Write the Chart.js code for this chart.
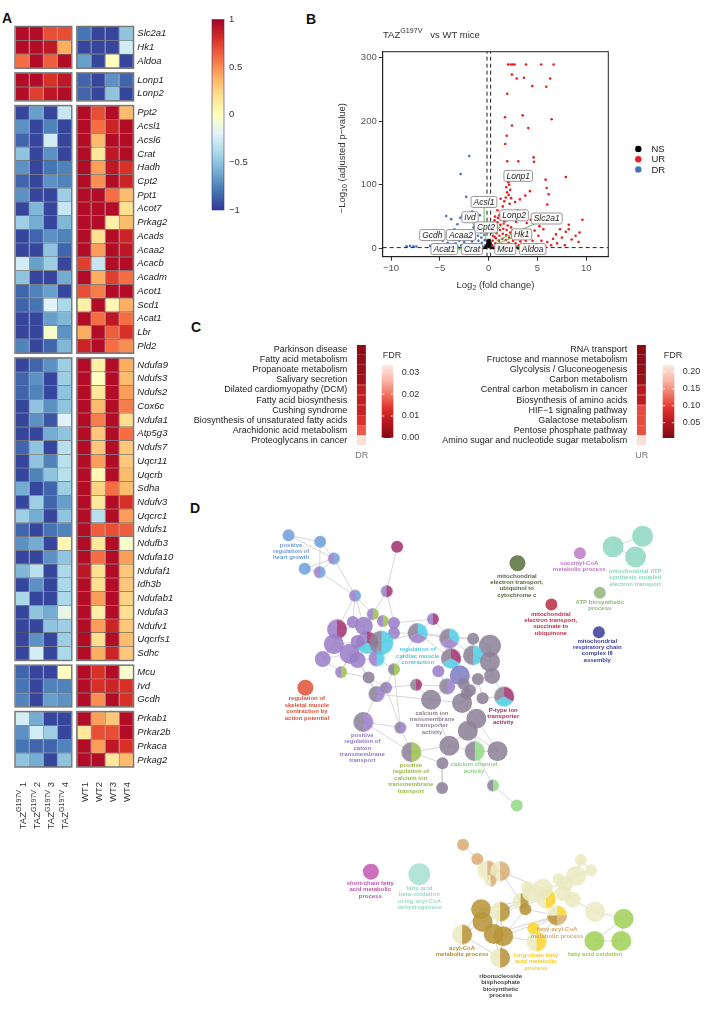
<!DOCTYPE html>
<html>
<head>
<meta charset="utf-8">
<script src="https://cdn.jsdelivr.net/npm/chart.js@4.4.1/dist/chart.umd.min.js"></script>
<style>
  body { margin:0; background:#fff; width:709px; height:1011px; position:relative; overflow:hidden;
         font-family:"Liberation Sans", Arial, sans-serif; }
  canvas { position:absolute; }
  .tag { position:absolute; font-weight:bold; font-size:14px; line-height:14px; color:#111; }
</style>
</head>
<body>
<div class="tag" style="left:2px;top:11px">A</div>
<div class="tag" style="left:306px;top:12px">B</div>
<div class="tag" style="left:191px;top:320px">C</div>
<div class="tag" style="left:190px;top:501px">D</div>

<canvas id="heat" width="250" height="880" style="left:0;top:0"></canvas>
<canvas id="volcano" width="409" height="300" style="left:300px;top:0"></canvas>
<canvas id="keggDown" width="250" height="130" style="left:185px;top:330px"></canvas>
<canvas id="keggUp" width="279" height="130" style="left:430px;top:330px"></canvas>
<canvas id="network" width="479" height="501" style="left:230px;top:510px"></canvas>

<script>
Chart.defaults.font.family = '"Liberation Sans", Arial, sans-serif';
const FONT = '"Liberation Sans", Arial, sans-serif';

// ---------------- panel A: z-scored expression ----------------
const geneNames = ['Slc2a1','Hk1','Aldoa','Lonp1','Lonp2','Ppt2','Acsl1','Acsl6','Crat','Hadh','Cpt2','Ppt1',
  'Acot7','Prkag2','Acads','Acaa2','Acacb','Acadm','Acot1','Scd1','Acat1','Lbr','Pld2','Ndufa9','Ndufs3',
  'Ndufs2','Cox6c','Ndufa1','Atp5g3','Ndufs7','Uqcr11','Uqcrb','Sdha','Ndufv3','Uqcrc1','Ndufs1','Ndufb3',
  'Ndufa10','Ndufaf1','Idh3b','Ndufab1','Ndufa3','Ndufv1','Uqcrfs1','Sdhc','Mcu','Ivd','Gcdh','Prkab1',
  'Prkar2b','Prkaca','Prkag2'];
const geneGroupSizes = [3, 2, 18, 22, 3, 4];
const sampleLabels = [['TAZ','G197V',' 1'],['TAZ','G197V',' 2'],['TAZ','G197V',' 3'],['TAZ','G197V',' 4'],
  ['WT1','',''],['WT2','',''],['WT3','',''],['WT4','','']];
const tazZ = [
  [0.95,0.95,0.7,0.7],[0.95,0.95,0.9,0.4],[0.6,0.95,0.65,0.95],[0.95,0.95,0.8,0.9],[0.95,0.75,0.9,0.95],
  [-0.95,-0.65,-0.95,-0.3],[-0.7,-0.95,-0.75,-0.95],[-0.85,-0.95,-0.25,-0.95],[-0.5,-0.95,-0.7,-0.95],
  [-0.7,-0.95,-0.8,-0.75],[-0.85,-0.95,-0.7,-0.75],[-0.7,-0.95,-0.95,-0.45],[-0.95,-0.55,-0.95,-0.3],
  [-0.45,-0.6,-0.95,-0.55],[-0.95,-0.85,-0.7,-0.75],[-0.95,-0.95,-0.5,-0.85],[-0.25,-0.65,-0.45,-0.95],
  [-0.5,-0.95,-0.95,-0.6],[-0.85,-0.75,-0.65,-0.95],[-0.85,-0.8,-0.2,-0.4],[-0.95,-0.95,-0.65,-0.55],
  [-0.95,-0.95,-0.05,-0.7],[-0.75,-0.95,-0.85,-0.55],
  [-0.95,-0.85,-0.7,-0.45],[-0.85,-0.7,-0.95,-0.45],[-0.85,-0.75,-0.95,-0.5],[-0.95,-0.5,-0.7,-0.5],
  [-0.95,-0.7,-0.9,-0.2],[-0.95,-0.95,-0.6,-0.5],[-0.85,-0.5,-0.95,-0.35],[-0.95,-0.5,-0.75,-0.35],
  [-0.95,-0.75,-0.5,-0.35],[-0.6,-0.95,-0.85,-0.45],[-0.95,-0.45,-0.85,-0.65],[-0.45,-0.6,-0.95,-0.5],
  [-0.85,-0.95,-0.8,-0.75],[-0.7,-0.6,-0.95,0.05],[-0.95,-0.95,-0.7,-0.5],[-0.55,-0.35,-0.95,-0.4],
  [-0.95,-0.7,-0.95,-0.4],[-0.4,-0.95,-0.95,-0.4],[-0.95,-0.5,-0.6,-0.15],[-0.95,-0.95,-0.5,-0.45],
  [-0.95,-0.7,-0.95,-0.45],[-0.95,-0.25,-0.95,-0.4],
  [-0.85,-0.95,-0.95,0.0],[-0.8,-0.95,-0.75,-0.75],[-0.75,-0.95,-0.65,-0.7],
  [-0.25,-0.6,-0.95,-0.95],[-0.7,-0.25,-0.45,-0.95],[-0.8,-0.85,-0.85,-0.75],[-0.5,-0.6,-0.95,-0.5]
];
const wtZ = [
  [-0.8,-0.95,-0.95,-0.5],[-0.95,-0.95,-0.95,-0.25],[-0.65,-0.95,0.0,-0.95],[-0.85,-0.95,-0.7,-0.85],[-0.85,-0.95,-0.5,-0.95],
  [0.95,0.7,0.95,0.35],[0.95,0.6,0.85,0.95],[0.95,0.35,0.95,0.95],[0.95,0.15,0.9,0.95],[0.95,0.45,0.9,0.8],
  [0.95,0.5,0.95,0.85],[0.95,0.95,0.6,0.35],[0.95,0.95,0.95,0.2],[0.95,0.95,0.1,0.35],[0.95,0.2,0.95,0.85],
  [0.95,0.45,0.95,0.9],[0.75,-0.3,0.95,0.95],[0.95,0.4,0.75,0.6],[0.7,0.55,0.95,0.95],[0.1,0.95,0.05,0.4],
  [0.95,0.6,0.9,0.6],[0.4,0.95,0.65,0.8],[0.85,0.95,0.6,0.5],
  [0.95,0.1,0.95,0.4],[0.95,0.0,0.95,0.35],[0.95,0.15,0.95,0.45],[0.95,0.35,0.95,0.55],[0.95,0.55,0.95,0.2],
  [0.95,0.3,0.95,0.6],[0.95,0.3,0.95,0.3],[0.95,0.45,0.95,0.3],[0.95,0.05,0.95,0.35],[0.95,0.25,0.6,0.35],
  [0.95,0.15,0.95,0.8],[0.95,-0.35,0.95,0.45],[0.95,0.65,0.7,0.65],[0.95,0.15,0.95,-0.05],[0.95,0.6,0.95,0.45],
  [0.9,0.2,0.95,0.3],[0.95,0.2,0.95,0.3],[0.95,0.45,0.95,0.25],[0.95,0.1,0.95,0.2],[0.95,0.45,0.85,0.3],
  [0.95,0.2,0.95,0.35],[0.95,0.4,0.85,0.3],
  [0.95,0.8,0.95,-0.05],[0.95,0.8,0.85,0.8],[0.95,0.5,0.95,0.8],
  [0.95,0.45,0.3,0.95],[0.15,0.7,0.7,0.95],[0.95,0.45,0.9,0.8],[0.95,0.95,0.15,0.35]
];
const zTicks = [1, 0.5, 0, -0.5, -1];

// ---------------- panel B: volcano ----------------
const upPoints = [
  [2.0,289],[2.25,289],[2.46,289],[2.66,289],[3.82,289],[5.38,289],[6.65,289],
  [2.38,273],[2.87,267],[3.61,268],[6.3,267],[4.47,255],[5.9,254],[1.9,243],
  [1.67,206],[3.48,209],[6.45,203],[2.38,193],[4.06,189],[1.85,177],[1.7,164],
  [1.9,137],[3.03,137],[4.6,143],[4.64,136],[5.83,108],[7.9,112],[6.14,85],[4.23,90],[5.94,95],
  [3.75,83],[6.0,69],[1.23,78],[2.7,73],[3.2,77],
  [2.0,104],[2.1,100],[1.8,96],[2.2,92],[1.9,88],[2.05,84],[1.75,80],[2.3,79],[1.6,74],[2.15,70],[1.45,66],
  [9.6,45],[9.3,25],[8.2,30],[8.2,37],[7.9,26],[8.5,14],[7.5,17],[6.6,15],[6.0,10],[5.4,12],[7.0,8],
  [6.4,5],[5.1,20],[4.7,28],[3.9,40],[4.3,45],[3.5,55],[5.6,30],[6.9,22],[7.3,30],[8.9,20],[9.2,10],
  [5.8,3],[4.9,7],[7.8,5],[3.0,60],[1.4,58],[1.1,52],[2.5,56],[4.0,18],[4.5,12],[3.3,48],[2.8,42],
  [5.2,35],[0.9,60],
  [0.35,5],[0.4,12],[0.45,20],[0.5,28],[0.55,36],[0.6,44],[0.42,40],[0.7,8],[0.75,16],[0.8,24],
  [0.85,33],[0.9,41],[0.95,48],[1.0,4],[1.05,12],[1.1,20],[1.15,29],[1.2,37],[1.25,45],[1.35,7],
  [1.4,15],[1.45,23],[1.5,31],[1.55,39],[1.7,5],[1.75,13],[1.8,21],[1.85,29],[1.95,36],[2.05,9],
  [2.1,17],[2.2,25],[2.3,33],[2.4,4],[2.5,12],[2.6,20],[2.75,8],[2.85,15],[3.0,24],[3.1,5],
  [3.25,11],[3.4,18],[3.6,6],[3.8,12],[4.1,4],[0.3,25],[0.38,32],[0.65,50],[0.52,2],[1.6,43],
  [2.45,28],[1.3,2],[0.62,18],[0.88,3],[3.5,2],[2.0,2],[2.9,3]
];
const downPoints = [
  [-1.99,145],[-2.87,117],[-2.3,81],[-4.35,51],[-3.84,46],[-2.9,48],[-2.7,51],[-8.4,3.5],[-8.05,4],
  [-7.7,3.5],[-7.4,3],[-5.5,20],[-4.0,28],[-3.5,30],[-3.2,38],[-1.7,58],[-1.2,40],[-0.9,52],[-4.7,12],
  [-5.2,7],[-6.0,4],[-3.1,22],
  [-0.35,5],[-0.4,13],[-0.45,21],[-0.5,29],[-0.55,36],[-0.7,9],[-0.75,17],[-0.8,25],[-0.85,32],
  [-1.0,4],[-1.05,12],[-1.1,20],[-1.2,28],[-1.35,7],[-1.4,15],[-1.5,23],[-1.65,4],[-1.7,11],
  [-1.8,19],[-1.95,27],[-2.0,6],[-2.1,14],[-2.3,22],[-2.4,3],[-2.5,10],[-2.7,17],[-2.8,5],[-3.0,12],
  [-3.2,3],[-3.4,8],[-3.6,14],[-3.9,4],[-4.2,9],[-4.5,3],[-0.6,2],[-1.25,2],[-2.2,2],[-0.95,38],
  [-1.55,33],[-2.6,26]
];
const nsPoints = [
  [-0.25,1],[-0.2,4],[-0.15,7],[-0.1,10],[-0.05,3],[0,6],[0.05,9],[0.1,2],[0.15,5],[0.2,8],[0.25,1],
  [-0.3,3],[-0.6,0.5],[-1.0,0.3],[-1.5,0.6],[-2.0,0.4],[-2.5,0.3],[0.5,0.5],[0.9,0.3],[1.3,0.6],
  [1.8,0.4],[2.3,0.3],[-0.12,12],[0.12,11],[0.02,13],[-0.8,1],[0.7,1],[-3,0.2],[3,0.2],[-0.4,0.8],[0.35,0.9]
];
// gene tags: name, tag centre (x, y), labelled point (x, y)
const tagSpots = [
  ['Lonp1',3.03,114,1.97,105],['Acsl1',-0.48,73,-0.45,20],['Lonp2',2.6,52,0.9,30],['Slc2a1',5.94,47,0.8,12],
  ['Ivd',-1.91,49,-1.4,32],['Cpt2',-0.28,33,-0.3,15],['Gcdh',-5.77,21,-4.8,22],['Acaa2',-2.84,21,-1.9,18],
  ['Hk1',3.38,22,0.9,8],['Acat1',-4.54,-1,-1.5,1],['Crat',-1.71,-1,-0.5,2],['Mcu',1.7,-1,0.5,2],
  ['Aldoa',4.5,-1,2.8,4]
];

// ---------------- panel C: KEGG enrichment ----------------
const downPathways = ['Parkinson disease','Fatty acid metabolism','Propanoate metabolism','Salivary secretion',
  'Dilated cardiomyopathy (DCM)','Fatty acid biosynthesis','Cushing syndrome',
  'Biosynthesis of unsaturated fatty acids','Arachidonic acid metabolism','Proteoglycans in cancer'];
const downFdr = [0.0017,0.0027,0.0033,0.004,0.0083,0.009,0.0093,0.0133,0.0173,0.0322];
const downTicks = [0.00, 0.01, 0.02, 0.03];
const upPathways = ['RNA transport','Fructose and mannose metabolism','Glycolysis / Gluconeogenesis',
  'Carbon metabolism','Central carbon metabolism in cancer','Biosynthesis of amino acids',
  'HIF\u22121 signaling pathway','Galactose metabolism','Pentose phosphate pathway',
  'Amino sugar and nucleotide sugar metabolism'];
const upFdr = [0.0115,0.018,0.022,0.026,0.052,0.057,0.108,0.108,0.112,0.214];
const upTicks = [0.05, 0.10, 0.15, 0.20];

// ---------------- panel D: GO term network ----------------
// x, y, radius, slice colours (clockwise from 12 o'clock)
const goNodes = [
  [49,14,6,'B'],[82.3,20.7,6,'B'],[96.7,38.3,6,'BP'],[66,49,6,'B'],[81.7,52.7,6,'BP'],
  [119,77.3,6,'BP'],[163.3,26,6,'M'],[152.3,72.7,6,'MP'],[201,102,6,'MP'],[100,112.7,10,'MP'],
  [96.7,128.3,10,'P'],[85,144,8,'P'],[116.7,105,6,'P'],[128.3,109,9,'P'],[137.7,96.7,6,'GP'],
  [148.3,104,6,'GP'],[160,106,6,'P'],[160,116.7,6,'P'],[121.7,126,7,'P'],[131.7,126.7,11,'MCP'],
  [146.7,126.7,12,'CY'],[113.3,138.3,10,'P'],[121.7,145,8,'P'],[141.7,143.3,8,'CP'],[104.3,157.7,6,'GP'],
  [133.3,163.3,6,'Y'],[160,154.7,6,'GY'],[185,116.7,10,'CPY'],[218.3,122.3,10,'CPY'],[220,143.3,10,'MCY'],
  [243.3,122.7,6,'Y'],[261,130,11,'Y'],[243.3,140,10,'CY'],[261,146.7,10,'Y'],[263.3,161.7,8,'Y'],
  [229.3,161,10,'V'],[248.3,165,6,'Y'],[206.7,156.7,6,'P'],[216,172.7,8,'PY'],[183.3,171,6,'MY'],
  [151.7,174,6,'PY'],[141.7,180.7,8,'PY'],[199,186.7,10,'Y'],[231.7,190,10,'Y'],[240,176.7,6,'Y'],
  [253.3,185,6,'Y'],[246.7,206.7,10,'Y'],[237.7,219.3,10,'Y'],[276,183.3,10,'MCY'],[127.7,210,10,'PY'],
  [166.7,216,6,'PY'],[178.3,241.7,10,'GY'],[218.3,235,10,'Y'],[245,240.7,10,'LY'],[269,240.7,10,'Y'],
  [211,253.3,6,'Y'],[66.7,174,8,'R'],[210.7,279.3,6,'Y'],[264.3,276.7,6,'LY'],[289.3,297.7,6,'L'],
  [233.3,170,6,'Y'],[236.7,180,6,'Y'],[290,43.3,8,'O'],[355.7,32.7,6,'K'],[390.7,26,10.5,'N'],
  [421.7,15,10.5,'N'],[414.3,36.7,10.5,'N'],[376.7,74.3,6,'S'],[325.7,86.7,6,'D'],[375.7,115.7,6,'Q'],
  [232.7,339,6,'T'],[247.7,354,6,'T'],[258.3,366,10,'TE'],[271.7,366.7,10,'TE'],[261.7,376.7,6,'TE'],
  [135.7,367.3,8,'U'],[186.7,370,11,'A'],[293.3,398.3,8,'HE'],[298.3,406.7,6,'H'],[320,395.7,10,'WE'],
  [331.7,413.3,10,'WTHE'],[310,440.7,10,'WE'],[251.7,406.7,10,'H'],[271.7,409.3,10,'HE'],[253.3,420,10,'H'],
  [265,432.7,10,'H'],[275,435,10,'H'],[231.7,433.3,10,'HE'],[271.7,457.7,10,'HE'],[306.7,426.7,6,'W'],
  [300,383.3,6,'E'],[316.7,385,10,'E'],[333.3,375,6,'E'],[340,380,8,'E'],[351.7,371.7,10,'E'],
  [356.7,355,6,'E'],[367.3,365.7,6,'E'],[348.3,396.7,8,'E'],[371.7,409.3,10,'E'],[338.3,390,8,'E'],
  [303.3,390,8,'E'],[401.7,416.7,10,'F'],[371,440,10,'F'],[399.3,440,10,'F']
];
const goEdges = [
  [0,1],[0,2],[1,2],[3,4],[2,4],[1,4],[2,5],[4,5],[3,2],[6,7],[7,14],[7,16],[5,12],[5,13],[5,9],[5,14],
  [8,27],[8,28],[8,16],[9,10],[9,12],[9,13],[10,11],[10,21],[10,18],[11,21],[11,24],[12,13],[13,14],
  [13,19],[14,15],[15,16],[16,17],[17,20],[18,19],[19,20],[19,21],[19,22],[20,23],[20,27],[21,22],
  [22,23],[22,25],[23,26],[24,25],[24,18],[25,40],[25,41],[26,40],[26,27],[27,28],[27,29],[27,17],
  [28,29],[28,30],[28,32],[29,32],[29,35],[29,37],[30,31],[31,32],[31,33],[32,33],[33,34],[34,36],
  [35,36],[35,60],[35,43],[36,45],[37,38],[38,39],[38,42],[39,40],[39,42],[41,49],[40,50],[41,42],
  [42,43],[43,44],[44,45],[45,48],[43,46],[46,47],[47,52],[48,34],[49,50],[49,51],[50,51],[51,52],
  [51,55],[52,53],[53,54],[52,55],[54,47],[46,53],[42,52],[55,57],[53,58],[58,59],[26,50],[41,22],
  [30,27],[21,24],[60,61],[61,43],[60,44],[34,61],[46,54],[64,65],[64,66],
  [70,71],[71,72],[71,73],[72,73],[72,74],[73,77],[73,91],[77,78],[77,79],[77,82],[77,83],[77,84],
  [78,80],[79,80],[79,91],[80,81],[80,85],[80,86],[81,86],[82,83],[82,84],[82,87],[83,85],[83,86],
  [84,85],[84,87],[85,86],[85,88],[86,88],[87,88],[89,80],[89,81],[79,94],[91,93],[93,94],[94,95],
  [94,96],[95,96],[97,98],[98,101],[101,102],[101,103],[102,103],[91,100],[100,77],[99,97],[92,93],
  [83,79],[78,86]
];
// term labels: lines, colour, x, y of first line
const goLabels = [
  [['positive','regulation of','heart growth'],'#6c9dd9',51.7,24],
  [['regulation of','cardiac muscle','contraction'],'#4cc8e2',185,134],
  [['mitochondrial','electron transport,','ubiquinol to','cytochrome c'],'#56693d',289.3,56.7],
  [['succinyl-CoA','metabolic process'],'#bb78c4',355,43.3],
  [['mitochondrial ATP','synthesis coupled','electron transport'],'#8bd5be',414,51.7],
  [['ATP biosynthetic','process'],'#8fb678',376.7,84.3],
  [['mitochondrial','electron transport,','succinate to','ubiquinone'],'#bd3046',325,96.7],
  [['mitochondrial','respiratory chain','complex III','assembly'],'#3d3f96',374,125],
  [['regulation of','skeletal muscle','contraction by','action potential'],'#df5039',68.3,185.7],
  [['P-type ion','transporter','activity'],'#a02f6c',275,197.3],
  [['calcium ion','transmembrane','transporter','activity'],'#8d8399',200,200.7],
  [['positive','regulation of','cation','transmembrane','transport'],'#9679c6',126.7,224],
  [['positive','regulation of','calcium ion','transmembrane','transport'],'#98bb48',177.7,255.7],
  [['calcium channel','activity'],'#8ad283',244.3,255],
  [['short-chain fatty','acid metabolic','process'],'#c152ae',135,379.3],
  [['fatty acid','beta-oxidation','using acyl-CoA','dehydrogenase'],'#9ed9c9',186.7,384.7],
  [['acyl-CoA','metabolic process'],'#b48f33',231.7,447.7],
  [['fatty-acyl-CoA','metabolic process'],'#d9a870',331.7,428.3],
  [['long-chain fatty','acid metabolic','process'],'#f5cc2a',309.3,455],
  [['fatty acid oxidation'],'#9ccd52',371.7,454],
  [['ribonucleoside','bisphosphate','biosynthetic','process'],'#444444',272.3,477.3]
];
const goColors = {
  P:'#9b7fca', Y:'#8d8399', C:'#52cde6', M:'#a43473', G:'#9dbf4e', L:'#96d98b', B:'#72a0dc',
  V:'#7f80c6', R:'#e0563f', O:'#5f7443', K:'#c07fc7', N:'#8fd8c1', S:'#93b97c', D:'#bd3347',
  Q:'#41439b', E:'#ebeac2', T:'#dcae78', H:'#b8953a', W:'#fbd633', F:'#a3d25c', U:'#c55bb3', A:'#a8e0d2'
};

// ---------------- helpers ----------------
function hexRgb(h) { const n = parseInt(h.slice(1), 16); return [n >> 16 & 255, n >> 8 & 255, n & 255]; }
function rgba(h, a) { const c = hexRgb(h); return `rgba(${c[0]},${c[1]},${c[2]},${a})`; }
function rampColor(stops, t) {
  t = Math.max(0, Math.min(1, t));
  const k = t * (stops.length - 1), i = Math.min(stops.length - 2, Math.floor(k)), f = k - i;
  const a = hexRgb(stops[i]), b = hexRgb(stops[i + 1]);
  return `rgb(${Math.round(a[0] + (b[0] - a[0]) * f)},${Math.round(a[1] + (b[1] - a[1]) * f)},${Math.round(a[2] + (b[2] - a[2]) * f)})`;
}
const RDYLBU = ['#313695','#4575b4','#74add1','#abd9e9','#e0f3f8','#ffffbf','#fee090','#fdae61','#f46d43','#d73027','#a50026'];
const zColor = v => rampColor(RDYLBU, (v + 1) / 2);
const REDS = ['#7f0a14','#b3161d','#df2f2b','#f07563','#f9b9aa','#fde8e1'];

// text with super/subscripts: parts = [[text, shift]] shift 1 = sup, -1 = sub
function drawRich(ctx, parts, x, y, size, align, style) {
  const f = s => `${style || ''} ${s}px ${FONT}`;
  let w = 0;
  parts.forEach(p => { ctx.font = f(p[1] ? size * 0.75 : size); w += ctx.measureText(p[0]).width; });
  let cx = align === 'center' ? x - w / 2 : align === 'right' ? x - w : x;
  ctx.textAlign = 'left';
  ctx.textBaseline = 'middle';
  parts.forEach(p => {
    ctx.font = f(p[1] ? size * 0.75 : size);
    const dy = p[1] === 1 ? -size * 0.4 : p[1] === -1 ? size * 0.3 : 0;
    ctx.fillText(p[0], cx, y + dy);
    cx += ctx.measureText(p[0]).width;
  });
}
const minus = v => String(v).replace('-', '\u2212');

// ---------------- chart A ----------------
const COL_GAP = 0.4, ROW_GAP = 0.38;
const rowPos = [];
let rowAcc = 0;
geneGroupSizes.forEach((n, g) => {
  for (let k = 0; k < n; k++) rowPos.push(rowAcc + k + 0.5 + g * ROW_GAP);
  rowAcc += n;
});
const Y_MAX = rowAcc + (geneGroupSizes.length - 1) * ROW_GAP;
const X_MAX = 8 + COL_GAP;
const colStart = c => (c < 4 ? c : c + COL_GAP);
const heatCells = [];
geneNames.forEach((g, i) => {
  tazZ[i].forEach((v, c) => heatCells.push({ x: [colStart(c), colStart(c) + 1], y: rowPos[i], v }));
  wtZ[i].forEach((v, c) => heatCells.push({ x: [colStart(c + 4), colStart(c + 4) + 1], y: rowPos[i], v }));
});
const HM_TOP = 19.5, HM_BOTTOM = 774;

const heatExtras = {
  id: 'heatExtras',
  afterDatasetsDraw(chart) {
    const { ctx, scales: { x, y } } = chart;
    ctx.save();
    // block frames
    ctx.strokeStyle = '#767676';
    ctx.lineWidth = 1.4;
    let acc = 0;
    geneGroupSizes.forEach((n, g) => {
      const top = y.getPixelForValue(acc + g * ROW_GAP), bot = y.getPixelForValue(acc + n + g * ROW_GAP);
      [[0, 4], [4 + COL_GAP, X_MAX]].forEach(([a, b]) => {
        const l = x.getPixelForValue(a), r = x.getPixelForValue(b);
        ctx.strokeRect(l - 0.3, top - 0.3, r - l + 0.6, bot - top + 0.6);
      });
      acc += n;
    });
    // sample labels, rotated
    ctx.fillStyle = '#333';
    sampleLabels.forEach((lab, c) => {
      const cx = x.getPixelForValue(colStart(c) + 0.5);
      ctx.save();
      ctx.translate(cx + 1, chart.chartArea.bottom + 8);
      ctx.rotate(-Math.PI / 2);
      const parts = [[lab[0], 0]];
      if (lab[1]) parts.push([lab[1], 1]);
      if (lab[2]) parts.push([lab[2], 0]);
      drawRich(ctx, parts, 0, 0, 9.5, 'right');
      ctx.restore();
    });
    // colour key
    const kx = 212, kw = 12, kt = 19.5, kb = 210;
    const grad = ctx.createLinearGradient(0, kb, 0, kt);
    RDYLBU.forEach((c, i) => grad.addColorStop(i / (RDYLBU.length - 1), c));
    ctx.fillStyle = grad;
    ctx.fillRect(kx, kt, kw, kb - kt);
    ctx.strokeStyle = '#3b3b7a';
    ctx.lineWidth = 0.6;
    ctx.strokeRect(kx, kt, kw, kb - kt);
    ctx.fillStyle = '#333';
    ctx.font = `9.5px ${FONT}`;
    ctx.textAlign = 'left';
    ctx.textBaseline = 'middle';
    zTicks.forEach(v => {
      const py = kb - (v + 1) / 2 * (kb - kt);
      ctx.fillText(minus(v), kx + kw + 5, py);
    });
    ctx.restore();
  }
};

new Chart(document.getElementById('heat'), {
  type: 'bar',
  data: {
    datasets: [{
      data: heatCells,
      backgroundColor: c => zColor(c.raw.v),
      borderColor: '#141414',
      borderWidth: 0.5,
      borderSkipped: false,
      inflateAmount: 0,
      barThickness: (HM_BOTTOM - HM_TOP) / Y_MAX
    }]
  },
  options: {
    indexAxis: 'y',
    responsive: false,
    animation: false,
    devicePixelRatio: 1,
    layout: { padding: { left: 15.3, top: HM_TOP, right: 250 - 60 - 133.3, bottom: 880 - HM_BOTTOM } },
    plugins: { legend: { display: false }, tooltip: { enabled: false } },
    scales: {
      x: { type: 'linear', min: 0, max: X_MAX, display: false },
      y: {
        type: 'linear', min: 0, max: Y_MAX, reverse: true, position: 'right',
        grid: { display: false, drawTicks: false }, border: { display: false },
        afterBuildTicks: s => { s.ticks = rowPos.map(v => ({ value: v })); },
        afterFit: s => { s.width = 60; },
        ticks: { autoSkip: false, padding: 4, color: '#222', font: { size: 9.5, style: 'italic' },
                 callback: (v, i) => geneNames[i] }
      }
    }
  },
  plugins: [heatExtras]
});

// ---------------- chart B ----------------
const toXY = arr => arr.map(([x, y]) => ({ x, y }));
const X_MIN_V = -10.85, X_MAX_V = 12.25, Y_MIN_V = -13, Y_MAX_V = 309;

const volcanoExtras = {
  id: 'volcanoExtras',
  afterDatasetsDraw(chart) {
    const { ctx, chartArea: a, scales: { x, y } } = chart;
    ctx.save();
    ctx.strokeStyle = '#222';
    ctx.lineWidth = 1;
    ctx.strokeRect(a.left, a.top, a.right - a.left, a.bottom - a.top);
    // leader lines
    ctx.strokeStyle = '#6cbf58';
    ctx.lineWidth = 1;
    tagSpots.forEach(([n, lx, ly, px, py]) => {
      ctx.beginPath();
      ctx.moveTo(x.getPixelForValue(lx), y.getPixelForValue(ly));
      ctx.lineTo(x.getPixelForValue(px), y.getPixelForValue(py));
      ctx.stroke();
    });
    // tag boxes
    ctx.font = `italic 8.5px ${FONT}`;
    ctx.textAlign = 'center';
    ctx.textBaseline = 'middle';
    tagSpots.forEach(([n, lx, ly]) => {
      const cx = x.getPixelForValue(lx), cy = y.getPixelForValue(ly);
      const w = ctx.measureText(n).width + 5, h = 11;
      ctx.beginPath();
      ctx.roundRect(cx - w / 2, cy - h / 2, w, h, 2);
      ctx.fillStyle = 'rgba(255,255,255,0.9)';
      ctx.fill();
      ctx.strokeStyle = '#7d7d7d';
      ctx.lineWidth = 0.8;
      ctx.stroke();
      ctx.fillStyle = '#222';
      ctx.fillText(n, cx, cy + 0.5);
    });
    // titles
    ctx.fillStyle = '#333';
    drawRich(ctx, [['TAZ', 0], ['G197V', 1], ['   vs WT mice', 0]], 83, 35, 9.5, 'left');
    drawRich(ctx, [['Log', 0], ['2', -1], [' (fold change)', 0]], (a.left + a.right) / 2, 285, 9.5, 'center');
    ctx.save();
    ctx.translate(42, (a.top + a.bottom) / 2 + 4);
    ctx.rotate(-Math.PI / 2);
    drawRich(ctx, [['\u2212Log', 0], ['10', -1], [' (adjusted p\u2212value)', 0]], 0, 0, 9.5, 'center');
    ctx.restore();
    // legend
    const keys = [['NS', '#000000'], ['UR', '#ee1c24'], ['DR', '#4a6fc1']];
    ctx.font = `9.5px ${FONT}`;
    ctx.textAlign = 'left';
    keys.forEach(([k, c], i) => {
      const ly = 149 + i * 10.2;
      ctx.beginPath();
      ctx.arc(338.3, ly, 3.2, 0, Math.PI * 2);
      ctx.fillStyle = c;
      ctx.fill();
      ctx.fillStyle = '#222';
      ctx.fillText(k, 351.5, ly + 0.5);
    });
    ctx.restore();
  }
};

const dashLine = pts => ({ type: 'line', data: pts, borderColor: '#222', borderWidth: 1, borderDash: [4, 3],
  pointRadius: 0, order: 0 });

new Chart(document.getElementById('volcano'), {
  type: 'scatter',
  data: {
    datasets: [
      dashLine([{ x: -0.17, y: Y_MIN_V }, { x: -0.17, y: Y_MAX_V }]),
      dashLine([{ x: 0.2, y: Y_MIN_V }, { x: 0.2, y: Y_MAX_V }]),
      dashLine([{ x: X_MIN_V, y: 1.3 }, { x: X_MAX_V, y: 1.3 }]),
      { label: 'DR', data: toXY(downPoints), backgroundColor: '#4a6fc1', pointRadius: 1.3, borderWidth: 0, order: 3 },
      { label: 'UR', data: toXY(upPoints), backgroundColor: '#ee1c24', pointRadius: 1.3, borderWidth: 0, order: 2 },
      { label: 'NS', data: toXY(nsPoints), backgroundColor: '#000000', pointRadius: 1.3, borderWidth: 0, order: 1 }
    ]
  },
  options: {
    responsive: false,
    animation: false,
    devicePixelRatio: 1,
    layout: { padding: { left: 0, top: 51.7, right: 409 - 308.3, bottom: 300 - 256.7 - 20 } },
    plugins: { legend: { display: false }, tooltip: { enabled: false } },
    scales: {
      x: {
        type: 'linear', min: X_MIN_V, max: X_MAX_V,
        afterFit: s => { s.height = 20; },
        grid: { drawOnChartArea: false, tickLength: 4, color: '#333' },
        border: { color: '#222' },
        ticks: { stepSize: 5, includeBounds: false, padding: 2, color: '#555', font: { size: 9.5 }, callback: v => minus(v) }
      },
      y: {
        type: 'linear', min: Y_MIN_V, max: Y_MAX_V,
        afterFit: s => { s.width = 82.7; },
        grid: { drawOnChartArea: false, tickLength: 4, color: '#333' },
        border: { color: '#222' },
        ticks: { stepSize: 100, includeBounds: false, padding: 2, color: '#555', font: { size: 9.5 }, callback: v => minus(v) }
      }
    }
  },
  plugins: [volcanoExtras]
});

// ---------------- chart C ----------------
function keggChart(id, names, fdr, ticks, fdrLo, fdrHi, axisW, padRight, barX, tag) {
  const scaleKey = {
    id: 'scaleKey',
    afterDatasetsDraw(chart) {
      const { ctx, chartArea: a } = chart;
      const top = 35, bot = 108, w = 11.6;
      const py = v => bot - (v - fdrLo) / (fdrHi - fdrLo) * (bot - top);
      ctx.save();
      const grad = ctx.createLinearGradient(0, bot, 0, top);
      REDS.forEach((c, i) => grad.addColorStop(i / (REDS.length - 1), c));
      ctx.fillStyle = grad;
      ctx.fillRect(barX, top, w, bot - top);
      ctx.strokeStyle = '#ffffff';
      ctx.lineWidth = 0.8;
      ctx.font = `9px ${FONT}`;
      ctx.fillStyle = '#333';
      ctx.textAlign = 'left';
      ctx.textBaseline = 'middle';
      ticks.forEach(v => {
        const yy = py(v);
        ctx.beginPath();
        ctx.moveTo(barX, yy); ctx.lineTo(barX + 2.5, yy);
        ctx.moveTo(barX + w - 2.5, yy); ctx.lineTo(barX + w, yy);
        ctx.stroke();
        ctx.fillText(v.toFixed(2), barX + w + 8.5, yy);
      });
      ctx.fillText('FDR', barX + 1, 25.7);
      ctx.fillStyle = '#777';
      ctx.textAlign = 'center';
      ctx.fillText(tag, (a.left + a.right) / 2 + 0.5, 126);
      ctx.restore();
    }
  };
  new Chart(document.getElementById(id), {
    type: 'bar',
    data: {
      labels: names,
      datasets: [{
        data: names.map((n, i) => ({ x: [0, 1], y: n, fdr: fdr[i] })),
        backgroundColor: c => rampColor(REDS, (c.raw.fdr - fdrLo) / (fdrHi - fdrLo)),
        borderColor: 'rgba(110,0,0,0.25)',
        borderWidth: 0.5,
        borderSkipped: false,
        barPercentage: 1,
        categoryPercentage: 1
      }]
    },
    options: {
      indexAxis: 'y',
      responsive: false,
      animation: false,
      devicePixelRatio: 1,
      layout: { padding: { left: 0, top: 12.3, right: padRight, bottom: 13.3 } },
      plugins: { legend: { display: false }, tooltip: { enabled: false } },
      scales: {
        x: { type: 'linear', min: 0, max: 1, display: false },
        y: {
          type: 'category',
          grid: { display: false, drawTicks: false }, border: { display: false },
          afterFit: s => { s.width = axisW; },
          ticks: { padding: 9.4, color: '#222', font: { size: 9 }, autoSkip: false }
        }
      }
    },
    plugins: [scaleKey]
  });
}
keggChart('keggDown', downPathways, downFdr, downTicks, 0, 0.0332, 171.7, 250 - 181, 196.7, 'DR');
keggChart('keggUp', upPathways, upFdr, upTicks, 0.005, 0.22, 206.7, 279 - 216, 232.7, 'UR');

// ---------------- chart D ----------------
function pieCanvas(cols, r) {
  const s = Math.ceil(r * 2) + 2, c = document.createElement('canvas');
  c.width = s; c.height = s;
  const g = c.getContext('2d');
  g.globalAlpha = 0.88;
  const n = cols.length;
  cols.split('').forEach((k, i) => {
    g.beginPath();
    g.moveTo(s / 2, s / 2);
    g.arc(s / 2, s / 2, r, -Math.PI / 2 + i * 2 * Math.PI / n, -Math.PI / 2 + (i + 1) * 2 * Math.PI / n);
    g.closePath();
    g.fillStyle = goColors[k];
    g.fill();
  });
  return c;
}
const pieStyles = goNodes.map(([x, y, r, cols]) => (cols.length > 1 ? pieCanvas(cols, r) : 'circle'));
const edgePts = [];
goEdges.forEach(([a, b]) => {
  const A = goNodes[a], B = goNodes[b];
  edgePts.push({ x: A[0], y: A[1] }, { x: B[0], y: B[1] }, { x: B[0], y: null });
});

const termLabels = {
  id: 'termLabels',
  afterDatasetsDraw(chart) {
    const { ctx, scales: { x, y } } = chart;
    ctx.save();
    ctx.font = `bold 6px ${FONT}`;
    ctx.textAlign = 'center';
    ctx.textBaseline = 'middle';
    goLabels.forEach(([lines, col, lx, ly]) => {
      ctx.fillStyle = col;
      lines.forEach((t, i) => ctx.fillText(t, x.getPixelForValue(lx), y.getPixelForValue(ly + i * 6.7)));
    });
    ctx.restore();
  }
};

new Chart(document.getElementById('network'), {
  type: 'bubble',
  data: {
    datasets: [
      { type: 'line', data: edgePts, borderColor: '#d2d2d2', borderWidth: 0.9, pointRadius: 0, spanGaps: false, order: 2 },
      {
        data: goNodes.map(([x, y, r]) => ({ x, y, r })),
        backgroundColor: c => rgba(goColors[goNodes[c.dataIndex][3][0]], 0.88),
        pointStyle: c => pieStyles[c.dataIndex],
        borderWidth: 0,
        order: 1
      }
    ]
  },
  options: {
    responsive: false,
    animation: false,
    devicePixelRatio: 1,
    layout: { padding: 0 },
    plugins: { legend: { display: false }, tooltip: { enabled: false } },
    scales: {
      x: { type: 'linear', min: 0, max: 479, display: false },
      y: { type: 'linear', min: 0, max: 501, reverse: true, display: false }
    }
  },
  plugins: [termLabels]
});
</script>
</body>
</html>
